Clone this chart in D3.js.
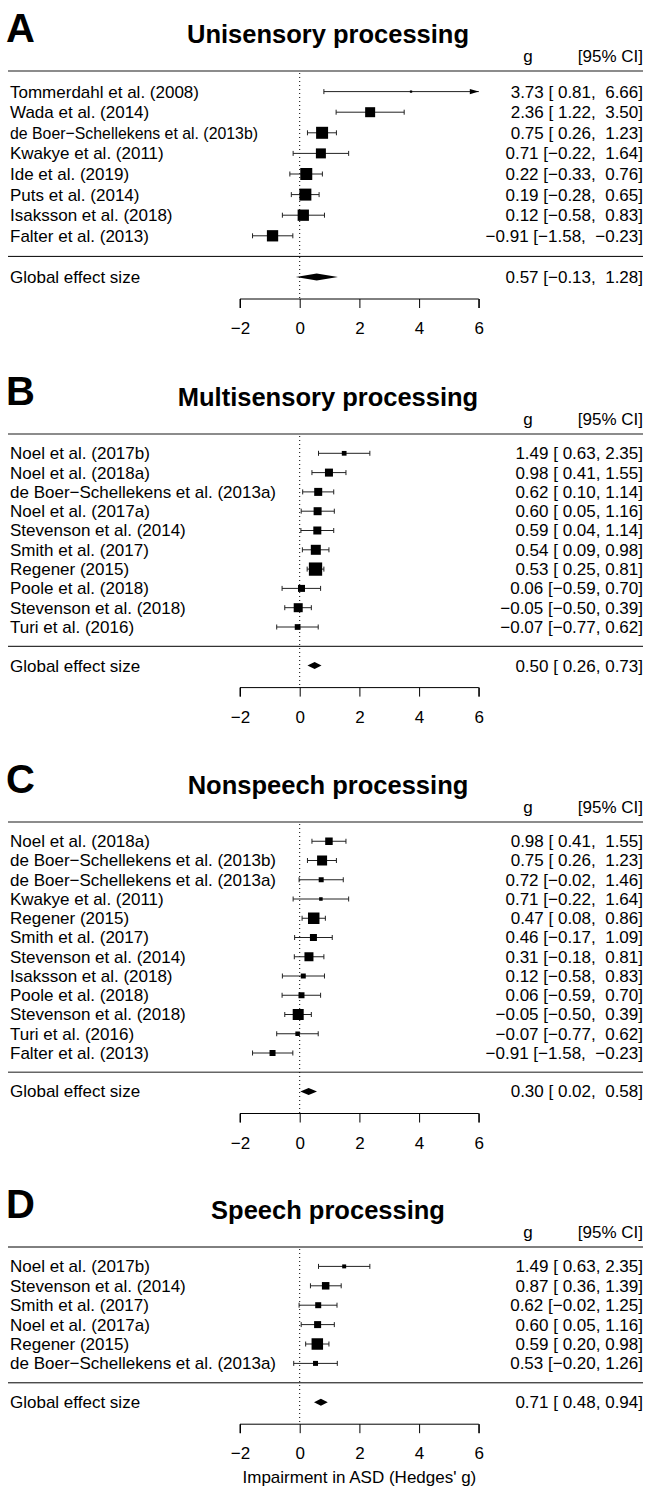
<!DOCTYPE html>
<html><head><meta charset="utf-8">
<script src="https://cdn.jsdelivr.net/npm/d3@7"></script>
<style>
body{margin:0;background:#fff}
svg{display:block}
text{font-family:"Liberation Sans",Arial,Helvetica,sans-serif;white-space:pre;fill:#000}
</style>
</head><body>
<svg id="chart" width="648" height="1489"></svg>
<script>
// ---------------- DATA ----------------
const tickValues = [-2, 0, 2, 4, 6];
const xLabel = "Impairment in ASD (Hedges' g)";
const headerG = "g";
const headerCI = "[95% CI]";
const overallLabel = "Global effect size";

// Panel A
const studiesA = ["Tommerdahl et al. (2008)", "Wada et al. (2014)", "de Boer\u2212Schellekens et al. (2013b)", "Kwakye et al. (2011)", "Ide et al. (2019)", "Puts et al. (2014)", "Isaksson et al. (2018)", "Falter et al. (2013)"];
const gA  = [3.73, 2.36, 0.75, 0.71, 0.22, 0.19, 0.12, -0.91];
const loA = [0.81, 1.22, 0.26, -0.22, -0.33, -0.28, -0.58, -1.58];
const hiA = [6.66, 3.50, 1.23, 1.64, 0.76, 0.65, 0.83, -0.23];
const wA  = [0.8, 15.3, 22, 15.3, 22, 22, 19.5, 19.5];
const overallA = [0.57, -0.13, 1.28];

// Panel B
const studiesB = ["Noel et al. (2017b)", "Noel et al. (2018a)", "de Boer\u2212Schellekens et al. (2013a)", "Noel et al. (2017a)", "Stevenson et al. (2014)", "Smith et al. (2017)", "Regener (2015)", "Poole et al. (2018)", "Stevenson et al. (2018)", "Turi et al. (2016)"];
const gB  = [1.49, 0.98, 0.62, 0.60, 0.59, 0.54, 0.53, 0.06, -0.05, -0.07];
const loB = [0.63, 0.41, 0.10, 0.05, 0.04, 0.09, 0.25, -0.59, -0.50, -0.77];
const hiB = [2.35, 1.55, 1.14, 1.16, 1.14, 0.98, 0.81, 0.70, 0.39, 0.62];
const wB  = [3.4, 9.8, 9.8, 9.8, 9.8, 15.3, 27, 7.5, 12.4, 5.0];
const overallB = [0.50, 0.26, 0.73];

// Panel C
const studiesC = ["Noel et al. (2018a)", "de Boer\u2212Schellekens et al. (2013b)", "de Boer\u2212Schellekens et al. (2013a)", "Kwakye et al. (2011)", "Regener (2015)", "Smith et al. (2017)", "Stevenson et al. (2014)", "Isaksson et al. (2018)", "Poole et al. (2018)", "Stevenson et al. (2018)", "Turi et al. (2016)", "Falter et al. (2013)"];
const gC  = [0.98, 0.75, 0.72, 0.71, 0.47, 0.46, 0.31, 0.12, 0.06, -0.05, -0.07, -0.91];
const loC = [0.41, 0.26, -0.02, -0.22, 0.08, -0.17, -0.18, -0.58, -0.59, -0.50, -0.77, -1.58];
const hiC = [1.55, 1.23, 1.46, 1.64, 0.86, 1.09, 0.81, 0.83, 0.70, 0.39, 0.62, -0.23];
const wC  = [8.6, 15.3, 3.8, 1.9, 20.2, 7.5, 12.4, 3.8, 5.5, 18.5, 3.1, 5.5];
const overallC = [0.30, 0.02, 0.58];

// Panel D
const studiesD = ["Noel et al. (2017b)", "Stevenson et al. (2014)", "Smith et al. (2017)", "Noel et al. (2017a)", "Regener (2015)", "de Boer\u2212Schellekens et al. (2013a)"];
const gD  = [1.49, 0.87, 0.62, 0.60, 0.59, 0.53];
const loD = [0.63, 0.36, -0.02, 0.05, 0.20, -0.20];
const hiD = [2.35, 1.39, 1.25, 1.16, 0.98, 1.26];
const wD  = [2.4, 8.6, 5.5, 7.5, 20.2, 3.8];
const overallD = [0.71, 0.48, 0.94];

// ---------------- LAYOUT ----------------
const panels = [
  {letter:"A", title:"Unisensory processing", studies:studiesA, g:gA, lo:loA, hi:hiA, w:wA, overall:overallA, lineY:71, step:20.6, squeeze:248, topCol:"#666", sepCol:"#000"},
  {letter:"B", title:"Multisensory processing", studies:studiesB, g:gB, lo:loB, hi:hiB, w:wB, overall:overallB, lineY:434, step:19.3, topCol:"#666", sepCol:"#000"},
  {letter:"C", title:"Nonspeech processing", studies:studiesC, g:gC, lo:loC, hi:hiC, w:wC, overall:overallC, lineY:822, step:19.25, topCol:"#666", sepCol:"#666"},
  {letter:"D", title:"Speech processing", studies:studiesD, g:gD, lo:loD, hi:hiD, w:wD, overall:overallD, lineY:1247, step:19.4, topCol:"#000", sepCol:"#000"}
];

const FS = 17;
const leftX = 8, rightX = 643, labelX = 10;
const x = d3.scaleLinear().domain([-2, 6]).range([240, 478.8]);
const side = d3.scaleSqrt().domain([0, 30]).range([0, 14]);
const svg = d3.select("#chart");

const MINUS = "\u2212";
function fmt(v, pad) {
  const s = Math.abs(v).toFixed(2);
  if (v < 0) return MINUS + s;
  return (pad ? " " : "") + s;
}
function ciText(g, lo, hi, padLo, padHi) {
  return fmt(g, false) + " [" + fmt(lo, padLo) + ", " + (padHi ? " " : "") + fmt(hi, false) + "]";
}

panels.forEach(p => {
  const k = p.studies.length;
  const rowY = i => p.lineY + (i + 1) * p.step;
  const sepY = rowY(k);
  const globY = rowY(k + 1);
  const axisY = globY + 22;
  const padLo = p.lo.concat([p.overall[1]]).some(v => v < 0);
  const padHi = p.hi.concat([p.overall[2]]).some(v => v < 0);
  const G = svg.append("g");

  // panel letter + title
  G.append("text").attr("x", 6).attr("y", p.lineY - 29).attr("font-size", 40).attr("font-weight", "bold").text(p.letter);
  G.append("text").attr("x", 328).attr("y", p.lineY - 28).attr("text-anchor", "middle").attr("font-size", 25.5).attr("font-weight", "bold").text(p.title);
  // header
  G.append("text").attr("x", 528).attr("y", p.lineY - 9).attr("text-anchor", "middle").attr("font-size", FS).text(headerG);
  G.append("text").attr("x", rightX).attr("y", p.lineY - 9).attr("text-anchor", "end").attr("font-size", FS).text(headerCI);

  // horizontal rules
  G.append("line").attr("x1", leftX).attr("x2", rightX).attr("y1", p.lineY).attr("y2", p.lineY).attr("stroke", p.topCol).attr("stroke-width", p.topCol === "#000" ? 1 : 1.6);
  G.append("line").attr("x1", leftX).attr("x2", rightX).attr("y1", sepY).attr("y2", sepY).attr("stroke", p.sepCol).attr("stroke-width", p.sepCol === "#000" ? 1 : 1.6);

  // reference line at 0
  G.append("line").attr("x1", x(0)).attr("x2", x(0)).attr("y1", p.lineY + 2).attr("y2", axisY)
    .attr("stroke", "#000").attr("stroke-width", 1).attr("stroke-dasharray", "1,3");

  // study rows
  p.studies.forEach((name, i) => {
    const y = rowY(i);
    const t = G.append("text").attr("x", labelX).attr("y", y + FS * 0.35).attr("font-size", FS).text(name);
    if (p.squeeze && t.node().getComputedTextLength() > p.squeeze) {
      t.attr("textLength", p.squeeze).attr("lengthAdjust", "spacingAndGlyphs");
    }
    G.append("text").attr("x", rightX).attr("y", y + FS * 0.35).attr("text-anchor", "end").attr("font-size", FS)
      .text(ciText(p.g[i], p.lo[i], p.hi[i], padLo, padHi));
    const lo = Math.max(p.lo[i], -2), hi = Math.min(p.hi[i], 6);
    const x1 = x(lo), x2 = x(hi);
    G.append("line").attr("x1", x1).attr("x2", x2).attr("y1", y).attr("y2", y).attr("stroke", "#222").attr("stroke-width", 1);
    if (p.lo[i] >= -2) G.append("line").attr("x1", x1).attr("x2", x1).attr("y1", y - 2.5).attr("y2", y + 2.5).attr("stroke", "#222");
    if (p.hi[i] <= 6) {
      G.append("line").attr("x1", x2).attr("x2", x2).attr("y1", y - 2.5).attr("y2", y + 2.5).attr("stroke", "#222");
    } else {
      G.append("path").attr("d", `M${x2},${y} L${x2 - 9},${y - 2.6} L${x2 - 9},${y + 2.6} Z`).attr("fill", "#000");
    }
    const s = Math.max(side(p.w[i]), 2);
    G.append("rect").attr("x", x(p.g[i]) - s / 2).attr("y", y - s / 2).attr("width", s).attr("height", s).attr("fill", "#000");
  });

  // overall
  G.append("text").attr("x", labelX).attr("y", globY + FS * 0.35).attr("font-size", FS).text(overallLabel);
  G.append("text").attr("x", rightX).attr("y", globY + FS * 0.35).attr("text-anchor", "end").attr("font-size", FS)
    .text(ciText(p.overall[0], p.overall[1], p.overall[2], padLo, padHi));
  const [og, ol, oh] = p.overall;
  G.append("path").attr("d", `M${x(ol)},${globY} L${x(og)},${globY - 3.5} L${x(oh)},${globY} L${x(og)},${globY + 3.5} Z`).attr("fill", "#000");

  // axis
  const axis = d3.axisBottom(x).tickValues(tickValues).tickSize(9).tickPadding(14)
    .tickFormat(d => d < 0 ? MINUS + Math.abs(d) : String(d));
  const ag = G.append("g").attr("transform", `translate(0,${axisY})`).call(axis);
  ag.select(".domain").attr("d", `M${x(-2)},9V0H${x(6)}V9`).attr("stroke", "#000");
  ag.selectAll(".tick line").attr("stroke", "#000");
  ag.selectAll(".tick text").attr("font-size", FS).attr("font-family", "Liberation Sans, Arial, sans-serif").attr("fill", "#000");

  if (p.letter === "D") {
    G.append("text").attr("x", x(2)).attr("y", axisY + 59).attr("text-anchor", "middle").attr("font-size", FS).text(xLabel);
  }
});
</script>
</body></html>
